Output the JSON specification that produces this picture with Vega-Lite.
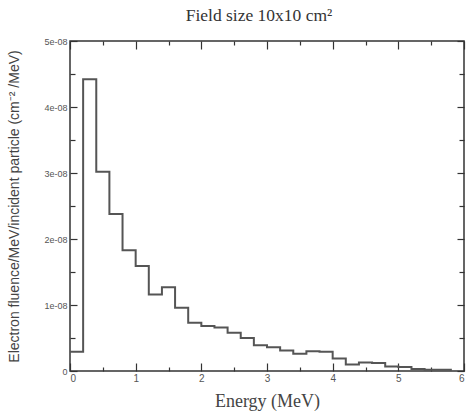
{
  "$schema": "https://vega.github.io/schema/vega-lite/v6.json",
  "width": 394,
  "height": 330,
  "autosize": "none",
  "padding": {"left": 70, "top": 41, "right": 4, "bottom": 44},
  "background": "white",
  "config": {
    "view": {"stroke": "#333", "strokeWidth": 1.5},
    "axis": {"domain": false, "grid": false, "tickColor": "#333", "tickWidth": 1.2, "labelColor": "#555", "labelFont": "Liberation Sans", "titleColor": "#444"}
  },
  "title": {"text": "Field size 10x10 cm²", "font": "Liberation Serif", "fontSize": 17.5, "fontWeight": "normal", "color": "#333", "offset": 13, "dx": -8},
  "data": {"values": [
    {"energy": 0.0, "fluence": 0.29e-8},
    {"energy": 0.2, "fluence": 4.42e-8},
    {"energy": 0.4, "fluence": 3.02e-8},
    {"energy": 0.6, "fluence": 2.38e-8},
    {"energy": 0.8, "fluence": 1.83e-8},
    {"energy": 1.0, "fluence": 1.59e-8},
    {"energy": 1.2, "fluence": 1.16e-8},
    {"energy": 1.4, "fluence": 1.27e-8},
    {"energy": 1.6, "fluence": 0.96e-8},
    {"energy": 1.8, "fluence": 0.73e-8},
    {"energy": 2.0, "fluence": 0.68e-8},
    {"energy": 2.2, "fluence": 0.66e-8},
    {"energy": 2.4, "fluence": 0.58e-8},
    {"energy": 2.6, "fluence": 0.50e-8},
    {"energy": 2.8, "fluence": 0.39e-8},
    {"energy": 3.0, "fluence": 0.36e-8},
    {"energy": 3.2, "fluence": 0.31e-8},
    {"energy": 3.4, "fluence": 0.26e-8},
    {"energy": 3.6, "fluence": 0.30e-8},
    {"energy": 3.8, "fluence": 0.29e-8},
    {"energy": 4.0, "fluence": 0.19e-8},
    {"energy": 4.2, "fluence": 0.10e-8},
    {"energy": 4.4, "fluence": 0.13e-8},
    {"energy": 4.6, "fluence": 0.12e-8},
    {"energy": 4.8, "fluence": 0.07e-8},
    {"energy": 5.0, "fluence": 0.06e-8},
    {"energy": 5.2, "fluence": 0.03e-8},
    {"energy": 5.4, "fluence": 0.02e-8},
    {"energy": 5.6, "fluence": 0.02e-8},
    {"energy": 5.8, "fluence": 0.0}
  ]},
  "layer": [
    {
      "mark": {"type": "line", "interpolate": "step-after", "color": "#555", "strokeWidth": 2},
      "encoding": {
        "x": {"field": "energy", "type": "quantitative", "scale": {"domain": [0, 6], "nice": false},
          "axis": {"orient": "bottom", "title": "Energy (MeV)", "titleFont": "Liberation Serif", "titleFontSize": 18, "titleFontWeight": "normal", "titlePadding": 9,
            "values": [0, 1, 2, 3, 4, 5, 6], "format": "d",
            "labelFontSize": 10, "labelPadding": 10,
            "tickSize": -8}},
        "y": {"field": "fluence", "type": "quantitative", "scale": {"domain": [0, 5e-8], "nice": false},
          "axis": {"orient": "left", "title": "Electron fluence/MeV/incident particle (cm⁻² /MeV)", "titleFont": "Liberation Sans", "titleFontSize": 14, "titleFontWeight": "normal", "titlePadding": 22,
            "values": [0, 1e-8, 2e-8, 3e-8, 4e-8, 5e-8],
            "labelExpr": "datum.value == 0 ? '0' : replace(format(datum.value, '.0e'), 'e-', 'e-0')",
            "labelFontSize": 9, "labelPadding": 10,
            "tickSize": -7}}
      }
    },
    {
      "mark": {"type": "line", "opacity": 0},
      "encoding": {
        "x": {"field": "energy", "type": "quantitative",
          "axis": {"orient": "top", "title": null, "labels": false, "values": [0, 1, 2, 3, 4, 5, 6], "tickSize": -8}},
        "y": {"field": "fluence", "type": "quantitative",
          "axis": {"orient": "right", "title": null, "labels": false, "values": [0, 1e-8, 2e-8, 3e-8, 4e-8, 5e-8], "tickSize": -7}}
      }
    },
    {
      "mark": {"type": "line", "opacity": 0},
      "encoding": {
        "x": {"field": "energy", "type": "quantitative",
          "axis": {"orient": "bottom", "title": null, "labels": false, "values": [0.5, 1.5, 2.5, 3.5, 4.5, 5.5], "tickSize": -4}},
        "y": {"field": "fluence", "type": "quantitative",
          "axis": {"orient": "left", "title": null, "labels": false, "values": [0.5e-8, 1.5e-8, 2.5e-8, 3.5e-8, 4.5e-8], "tickSize": -5}}
      }
    },
    {
      "mark": {"type": "line", "opacity": 0},
      "encoding": {
        "x": {"field": "energy", "type": "quantitative",
          "axis": {"orient": "top", "title": null, "labels": false, "values": [0.5, 1.5, 2.5, 3.5, 4.5, 5.5], "tickSize": -4}},
        "y": {"field": "fluence", "type": "quantitative",
          "axis": {"orient": "right", "title": null, "labels": false, "values": [0.5e-8, 1.5e-8, 2.5e-8, 3.5e-8, 4.5e-8], "tickSize": -5}}
      }
    }
  ],
  "resolve": {"axis": {"x": "independent", "y": "independent"}}
}
